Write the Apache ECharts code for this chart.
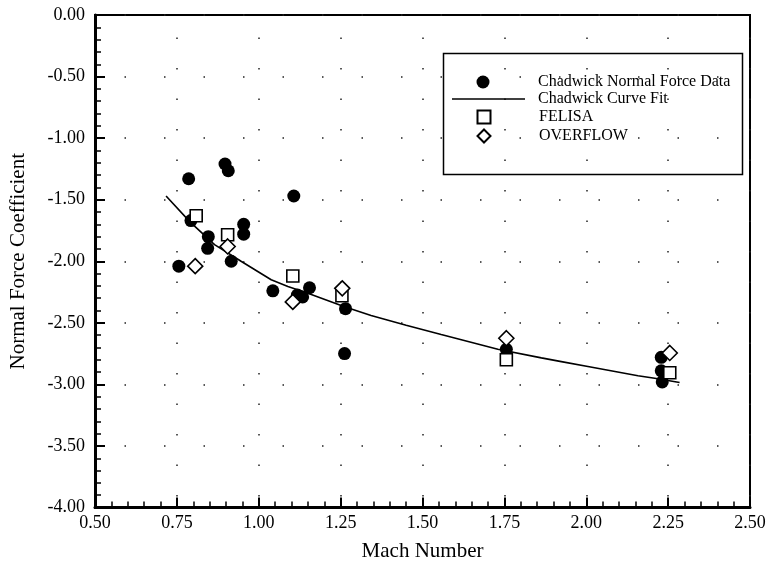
<!DOCTYPE html>
<html>
<head>
<meta charset="utf-8">
<script src="https://cdn.jsdelivr.net/npm/echarts@6/dist/echarts.min.js"></script>
<style>
  html, body { margin: 0; padding: 0; background: #fff; }
  #chart { width: 770px; height: 569px; }
</style>
</head>
<body>
<div id="chart"></div>
<script>
// Chadwick wind-tunnel normal force measurements
const chadwickMach = [0.786, 0.793, 0.897, 0.907, 1.107, 0.846, 0.844, 0.954, 0.954, 0.916, 0.756,
                      1.043, 1.118, 1.134, 1.155, 1.265, 1.262, 1.756, 2.229, 2.229, 2.232];
const chadwickCn   = [-1.33, -1.67, -1.21, -1.265, -1.47, -1.80, -1.895, -1.70, -1.78, -2.00, -2.04,
                      -2.24, -2.275, -2.29, -2.215, -2.385, -2.75, -2.715, -2.78, -2.89, -2.98];

// Chadwick curve fit
const fitMach = [0.717, 0.79, 0.865, 0.946, 1.038, 1.089, 1.15, 1.262, 1.343, 1.45, 1.557, 1.73,
                 1.863, 1.924, 2.005, 2.158, 2.209, 2.285];
const fitCn   = [-1.47, -1.68, -1.865, -2.0, -2.15, -2.205, -2.26, -2.37, -2.44, -2.52, -2.595, -2.715,
                 -2.785, -2.815, -2.855, -2.93, -2.95, -2.985];

// FELISA solutions
const felisaMach = [0.809, 0.905, 1.104, 1.254, 1.756, 2.255];
const felisaCn   = [-1.63, -1.785, -2.12, -2.28, -2.80, -2.905];

// OVERFLOW solutions
const overflowMach = [0.806, 0.905, 1.104, 1.255, 1.756, 2.255];
const overflowCn   = [-2.04, -1.88, -2.33, -2.22, -2.625, -2.745];

// Axis ranges and ticks
const machTicks = { min: 0.5, max: 2.5, interval: 0.25 };
const cnTicks   = { min: -4.0, max: 0.0, interval: 0.5 };

const pairs = (xs, ys) => xs.map((x, i) => [x, ys[i]]);

const serif = "'Liberation Serif', 'Times New Roman', serif";
const legendText = { fontFamily: serif, fontSize: 16, color: '#000' };

// Three stacked legends share one framed key: marker entries use small icons,
// the curve entry uses a long line sample; all texts start on the same column.
const markerLegend = (top, names, gap) => ({
  orient: 'vertical', left: 476.5, top, padding: 0, itemGap: gap,
  itemWidth: 13, itemHeight: 13,
  textStyle: Object.assign({ padding: [0, 0, 0, 43.5] }, legendText),
  data: names
});

const chart = echarts.init(document.getElementById('chart'));
chart.setOption({
  backgroundColor: '#fff',
  animation: false,
  textStyle: { fontFamily: serif, color: '#000' },
  grid: {
    left: 95, top: 15, width: 655, height: 492.5,
    show: true, borderColor: '#000', borderWidth: 2, backgroundColor: 'transparent'
  },
  graphic: [{
    type: 'rect', left: 441, top: 51, z: 10,
    shape: { width: 299, height: 121 },
    style: { fill: 'none', stroke: '#000', lineWidth: 1.5 }
  }],
  legend: [
    markerLegend(74, [{ name: 'Chadwick Normal Force Data', icon: 'circle' }], 3),
    {
      orient: 'vertical', left: 452, top: 91, padding: 0,
      itemWidth: 73, itemHeight: 13,
      textStyle: Object.assign({ padding: [0, 0, 0, 8] }, legendText),
      data: [{ name: 'Chadwick Curve Fit', icon: 'path://M0,0 L73,0 L73,1.6 L0,1.6 Z' }]
    },
    markerLegend(109, [{ name: 'FELISA', icon: 'rect' }, { name: 'OVERFLOW', icon: 'diamond' }], 3)
  ],
  xAxis: {
    type: 'value',
    min: machTicks.min, max: machTicks.max, interval: machTicks.interval,
    name: 'Mach Number', nameLocation: 'middle', nameGap: 33,
    nameTextStyle: { fontFamily: serif, fontSize: 21, color: '#000' },
    axisLine: { show: true, onZero: false, lineStyle: { color: '#000', width: 3 } },
    axisTick: { show: true, inside: true, length: 10, lineStyle: { color: '#000', width: 2 } },
    minorTick: { show: true, splitNumber: 5, length: 6, lineStyle: { color: '#000', width: 1.5 } },
    axisLabel: {
      margin: 7, fontFamily: serif, fontSize: 18, color: '#000',
      formatter: v => v.toFixed(2)
    },
    splitLine: { show: true, lineStyle: { color: '#222', width: 1.5, type: [1.5, 29], dashOffset: 8 } }
  },
  yAxis: {
    type: 'value',
    min: cnTicks.min, max: cnTicks.max, interval: cnTicks.interval,
    name: 'Normal Force Coefficient', nameLocation: 'middle', nameGap: 66,
    nameTextStyle: { fontFamily: serif, fontSize: 21, color: '#000' },
    axisLine: { show: true, onZero: false, lineStyle: { color: '#000', width: 3 } },
    axisTick: { show: true, inside: true, length: 10, lineStyle: { color: '#000', width: 2 } },
    minorTick: { show: true, splitNumber: 5, length: 6, lineStyle: { color: '#000', width: 1.5 } },
    axisLabel: {
      margin: 10, fontFamily: serif, fontSize: 18, color: '#000',
      formatter: v => v.toFixed(2)
    },
    splitLine: { show: true, lineStyle: { color: '#222', width: 1.5, type: [1.5, 38], dashOffset: 10 } }
  },
  series: [
    {
      name: 'Chadwick Curve Fit',
      type: 'line',
      data: pairs(fitMach, fitCn),
      symbol: 'none',
      lineStyle: { color: '#000', width: 1.6 },
      itemStyle: { color: '#000' },
      z: 2
    },
    {
      name: 'Chadwick Normal Force Data',
      type: 'scatter',
      data: pairs(chadwickMach, chadwickCn),
      symbol: 'circle', symbolSize: 13,
      itemStyle: { color: '#000', opacity: 1 },
      z: 3
    },
    {
      name: 'FELISA',
      type: 'scatter',
      data: pairs(felisaMach, felisaCn),
      symbol: 'rect', symbolSize: 12,
      itemStyle: { color: '#fff', borderColor: '#000', borderWidth: 1.6, opacity: 1 },
      z: 4
    },
    {
      name: 'OVERFLOW',
      type: 'scatter',
      data: pairs(overflowMach, overflowCn),
      symbol: 'diamond', symbolSize: [15, 15],
      itemStyle: { color: '#fff', borderColor: '#000', borderWidth: 1.6, opacity: 1 },
      z: 5
    }
  ]
});
</script>
</body>
</html>
